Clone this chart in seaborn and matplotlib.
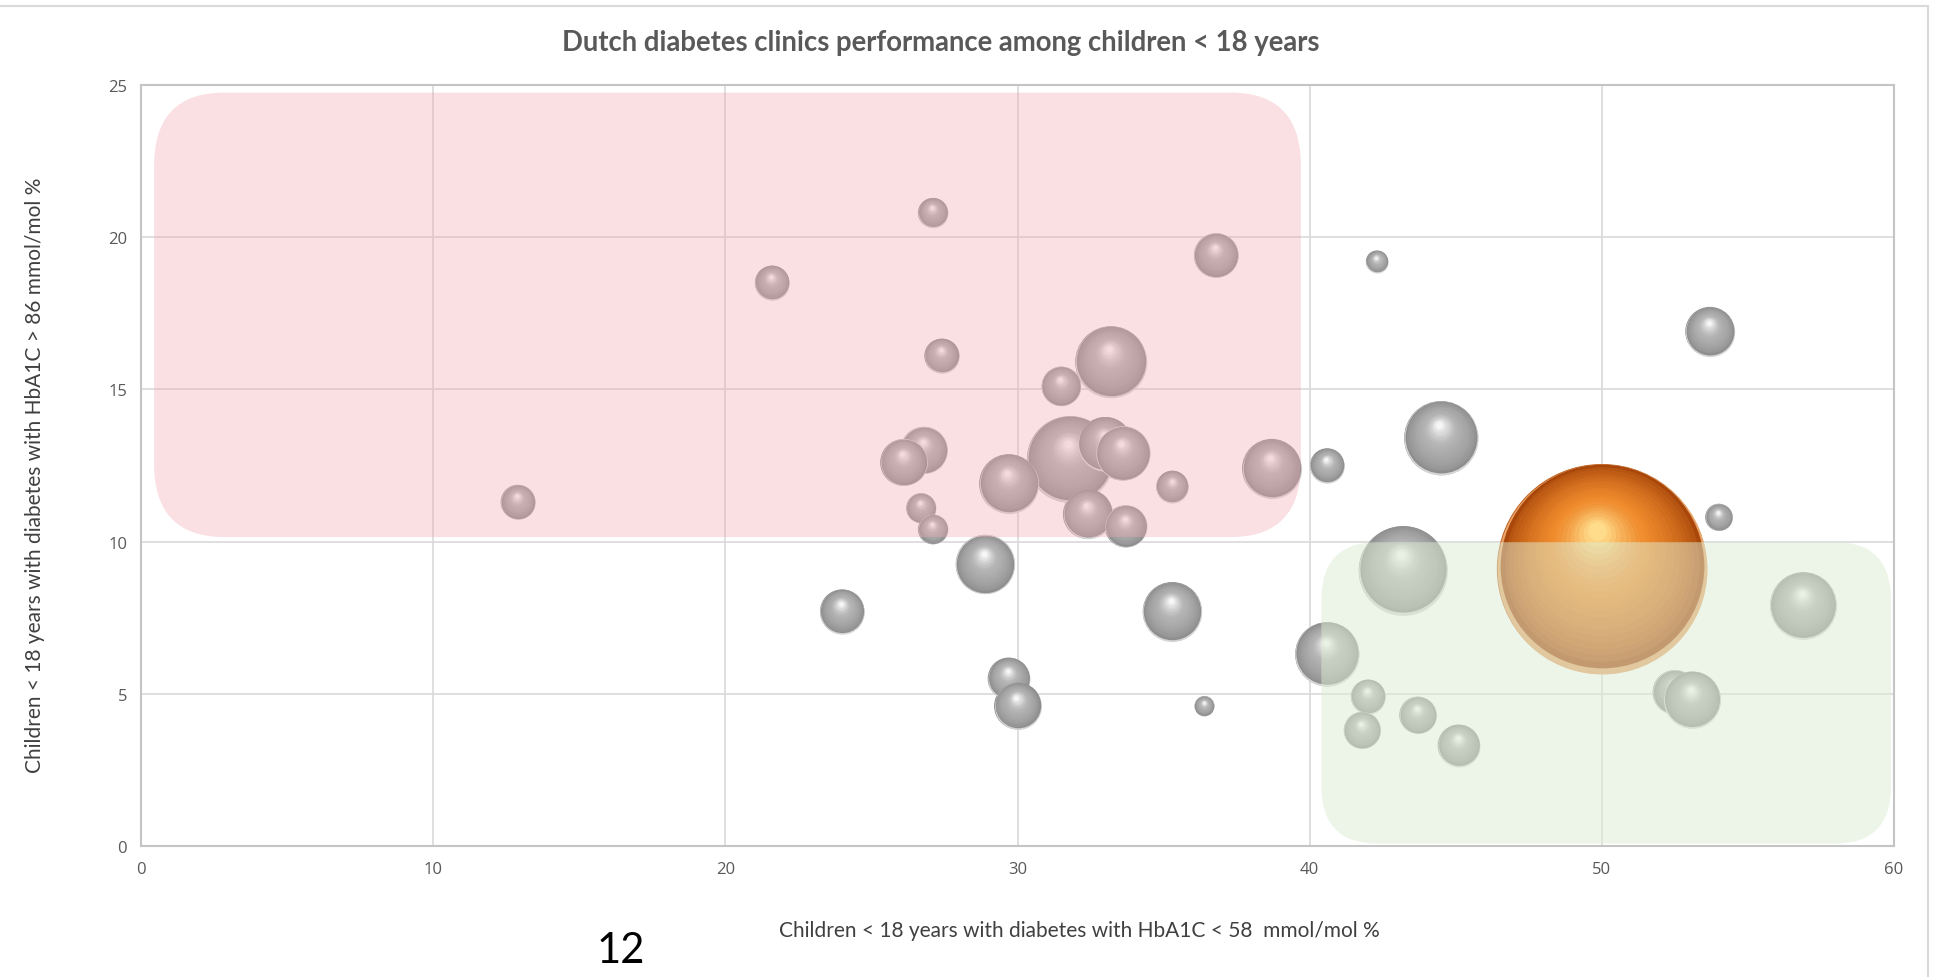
import numpy as np
import pandas as pd
import matplotlib
matplotlib.use("Agg")
import matplotlib.pyplot as plt
import seaborn as sns
from matplotlib.patches import FancyBboxPatch
from matplotlib.lines import Line2D
from matplotlib.colors import to_rgb

# Clinics: share of children with HbA1C < 58 (x), share with HbA1C > 86 (y), bubble size
clinic_x = [12.9, 21.6, 27.1, 27.4, 36.8, 42.3, 53.7, 33.2, 31.5, 31.8, 33.0, 33.6,
            32.4, 33.7, 29.7, 26.8, 26.1, 26.7, 27.1, 35.3, 38.7, 40.6, 44.5, 54.0,
            28.9, 24.0, 35.3, 43.2, 40.6, 56.9, 29.7, 30.0, 36.4, 42.0, 41.8, 43.7,
            45.1, 52.5, 53.1]
clinic_y = [11.3, 18.5, 20.8, 16.1, 19.4, 19.2, 16.9, 15.9, 15.1, 12.7, 13.2, 12.9,
            10.9, 10.5, 11.9, 13.0, 12.6, 11.1, 10.4, 11.8, 12.4, 12.5, 13.4, 10.8,
            9.25, 7.7, 7.7, 9.05, 6.3, 7.9, 5.5, 4.6, 4.6, 4.9, 3.8, 4.3,
            3.3, 5.05, 4.8]
clinic_size = [78, 78, 58, 78, 130, 32, 160, 336, 102, 490, 194, 194,
               160, 116, 230, 144, 144, 58, 58, 68, 230, 78, 360, 48,
               230, 130, 230, 518, 270, 292, 116, 144, 26, 78, 90, 90,
               116, 130, 212]

# Highlighted reference clinic
reference_x = [50.0]
reference_y = [9.1]
reference_size = [2890]

title = "Dutch diabetes clinics performance among children < 18 years"
x_label = "Children < 18 years with diabetes with HbA1C < 58  mmol/mol %"
y_label = "Children < 18 years with diabetes with HbA1C > 86 mmol/mol %"
x_ticks = [0, 10, 20, 30, 40, 50, 60]
y_ticks = [0, 5, 10, 15, 20, 25]
page_number = "12"

sns.set_theme(style="white")
plt.rcParams["font.family"] = ["Lato", "DejaVu Sans"]

df = pd.DataFrame({
    "x": clinic_x + reference_x,
    "y": clinic_y + reference_y,
    "size": clinic_size + reference_size,
    "group": ["clinic"] * len(clinic_x) + ["reference"] * len(reference_x),
})

W, H, DPI = 19.36, 9.78, 100
fig = plt.figure(figsize=(W, H), dpi=DPI)
ax_rect = [141 / 1936, 1 - 847 / 978, (1894 - 141) / 1936, (847 - 86) / 978]
ax = fig.add_axes(ax_rect)

XMAX, YMAX = 60, 25
AREA_PER_UNIT = 7.91  # marker area (pt^2) per unit of bubble size
vmax = df["size"].max()

sns.scatterplot(data=df, x="x", y="y", hue="group", size="size",
                palette={"clinic": "#929292", "reference": "#b85210"},
                sizes=(0, vmax * AREA_PER_UNIT), size_norm=(0, vmax),
                linewidth=0, legend=False, ax=ax, zorder=2.5)

# Sphere shading: stacked circles that shrink toward an upper highlight
pt_per_x = ax_rect[2] * W * 72 / XMAX
pt_per_y = ax_rect[3] * H * 72 / YMAX


def lerp(a, b, t):
    a, b = np.array(to_rgb(a)), np.array(to_rgb(b))
    return tuple(a + (b - a) * t)


def sphere(x, y, s, rim, edge, mid, light, z, n=20):
    r = np.sqrt(s) / 2
    ax.scatter([x], [y], s=s, color=rim, lw=0, zorder=z)
    ax.scatter([x], [y + 0.03 * r / pt_per_y], s=s * 0.97 ** 2, color=edge, lw=0, zorder=z)
    for k in range(n):
        t = (k + 1) / n
        f = 0.97 - 0.88 * t
        if t < 0.55:
            c = lerp(edge, mid, (t / 0.55) ** 0.7)
        else:
            c = lerp(mid, light, ((t - 0.55) / 0.45) ** 1.4)
        dx = -0.05 * r * t / pt_per_x
        dy = (0.03 + 0.33 * t) * r / pt_per_y
        ax.scatter([x + dx], [y + dy], s=s * f * f, color=c, lw=0, zorder=z)


palettes = {
    "clinic": ("#d6d6d6", "#8e8e8e", "#b2b2b2", "#f6f6f6"),
    "reference": ("#e8a468", "#a9470b", "#ef8a2c", "#ffdc8c"),
}
for i, row in df.iterrows():
    s = row["size"] * AREA_PER_UNIT
    sphere(row["x"], row["y"], s, *palettes[row["group"]], z=3 + i * 0.01)

# Performance zones
ax.add_patch(FancyBboxPatch((0.45, 10.15), 39.25, 14.6,
                            boxstyle="round,pad=0,rounding_size=2.4",
                            fc=(241 / 255, 164 / 255, 175 / 255), alpha=0.35,
                            ec="none", zorder=50))
ax.add_patch(FancyBboxPatch((40.4, 0.08), 19.5, 9.9,
                            boxstyle="round,pad=0,rounding_size=1.9",
                            fc="#ddedd5", alpha=0.5, ec="none", zorder=50))

ax.set_xlim(0, XMAX)
ax.set_ylim(0, YMAX)
ax.set_xticks(x_ticks)
ax.set_yticks(y_ticks)
ax.grid(True, color="#d9d9d9", lw=1.2)
ax.set_axisbelow(True)
for sp in ax.spines.values():
    sp.set_color("#c4c4c4")
    sp.set_linewidth(1.5)
    sp.set_zorder(60)
ax.tick_params(axis="both", length=0, labelsize=12, labelcolor="#595959")
ax.tick_params(axis="x", pad=11)
ax.tick_params(axis="y", pad=10)
for lab in ax.get_xticklabels() + ax.get_yticklabels():
    lab.set_fontfamily(["Open Sans", "DejaVu Sans"])

ax.set_xlabel(x_label, fontsize=15, color="#404040")
ax.set_ylabel(y_label, fontsize=15, color="#404040")
ax.xaxis.label.set_va("center")
ax.yaxis.label.set_va("center")
ax.xaxis.set_label_coords((1079 - 141) / 1753, -(931 - 847) / 761)
ax.yaxis.set_label_coords(-(141 - 35) / 1753, (847 - 475) / 761)

fig.text(941 / 1936, 1 - 43 / 978, title, ha="center", va="center",
         fontsize=19.8, fontweight="bold", color="#595959")
fig.text(621 / 1936, 1 - 951 / 978, page_number, ha="center", va="center",
         fontsize=30, color="black")

# Chart-area border (top and right edges)
fig.add_artist(Line2D([0, 1928 / 1936], [1 - 7 / 978] * 2, transform=fig.transFigure,
                      color="#d9d9d9", lw=1.5))
fig.add_artist(Line2D([1928 / 1936] * 2, [1 - 7 / 978, 0], transform=fig.transFigure,
                      color="#d9d9d9", lw=1.5))

fig.savefig("out.png", dpi=DPI)
